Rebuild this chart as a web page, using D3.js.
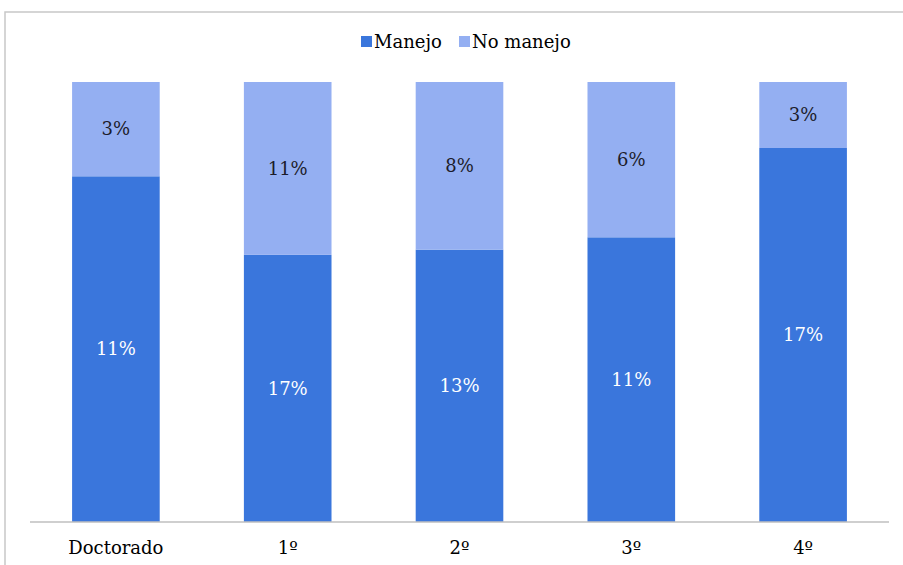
<!DOCTYPE html>
<html>
<head>
<meta charset="utf-8">
<script src="https://cdn.jsdelivr.net/npm/d3@7"></script>
<style>
  html, body { margin: 0; padding: 0; background: #fff; }
</style>
</head>
<body>
<svg id="chart"></svg>
<script>
const width = 903, height = 565;
const serif = "DejaVu Serif";

// data
const categories = ["Doctorado", "1º", "2º", "3º", "4º"];
const seriesNames = ["Manejo", "No manejo"];
const manejo = [11, 17, 13, 11, 17];
const noManejo = [3, 11, 8, 6, 3];

const colors = { "Manejo": "#3a76dc", "No manejo": "#94aff2" };
const labelColors = { "Manejo": "#ffffff", "No manejo": "#1c1c2a" };

const svg = d3.select("#chart").attr("width", width).attr("height", height);

// outer frame, runs past right and bottom edges
svg.append("rect")
  .attr("x", 5).attr("y", 12)
  .attr("width", width + 10).attr("height", height + 10)
  .attr("fill", "#fff")
  .attr("stroke", "#c8c8c8")
  .attr("stroke-width", 1.5);

const x = d3.scaleBand()
  .domain(categories)
  .range([30, 889])
  .paddingInner(0.49)
  .paddingOuter(0.245);

const y = d3.scaleLinear().domain([0, 1]).range([522, 82]);

// 100% stacked
const rows = categories.map((c, i) => {
  const total = manejo[i] + noManejo[i];
  return {
    cat: c,
    "Manejo": manejo[i] / total,
    "No manejo": noManejo[i] / total,
    raw: { "Manejo": manejo[i], "No manejo": noManejo[i] }
  };
});

const stack = d3.stack().keys(seriesNames)(rows);

const layers = svg.append("g").selectAll("g")
  .data(stack)
  .join("g")
  .attr("fill", d => colors[d.key]);

layers.selectAll("rect")
  .data(d => d.map(v => ({ key: d.key, v })))
  .join("rect")
  .attr("x", d => x(d.v.data.cat))
  .attr("width", x.bandwidth())
  .attr("y", d => y(d.v[1]))
  .attr("height", d => y(d.v[0]) - y(d.v[1]));

// value labels
layers.selectAll("text")
  .data(d => d.map(v => ({ key: d.key, v })))
  .join("text")
  .attr("x", d => x(d.v.data.cat) + x.bandwidth() / 2)
  .attr("y", d => (y(d.v[0]) + y(d.v[1])) / 2)
  .attr("dy", "0.35em")
  .attr("text-anchor", "middle")
  .style("font-family", serif)
  .attr("font-size", "18px")
  .attr("fill", d => labelColors[d.key])
  .text(d => d.v.data.raw[d.key] + "%");

// x axis
const xAxis = svg.append("g")
  .attr("transform", "translate(0,522)")
  .call(d3.axisBottom(x).tickSize(0).tickPadding(19));
xAxis.select(".domain").attr("stroke", "#bfbfbf").attr("stroke-width", 1.5)
  .attr("d", "M30,0H889");
xAxis.selectAll("text")
  .style("font-family", serif)
  .attr("font-size", "18px")
  .attr("fill", "#000");

// legend
const legend = svg.append("g").attr("transform", "translate(361,42)");
const legendX = [0, 98];
seriesNames.forEach((s, i) => {
  const g = legend.append("g").attr("transform", `translate(${legendX[i]},0)`);
  g.append("rect")
    .attr("x", 0).attr("y", -6)
    .attr("width", 11).attr("height", 11)
    .attr("fill", colors[s]);
  g.append("text")
    .attr("x", 13).attr("y", 0)
    .attr("dy", "0.35em")
    .style("font-family", serif)
    .attr("font-size", "18px")
    .attr("fill", "#000")
    .text(s);
});
</script>
</body>
</html>
